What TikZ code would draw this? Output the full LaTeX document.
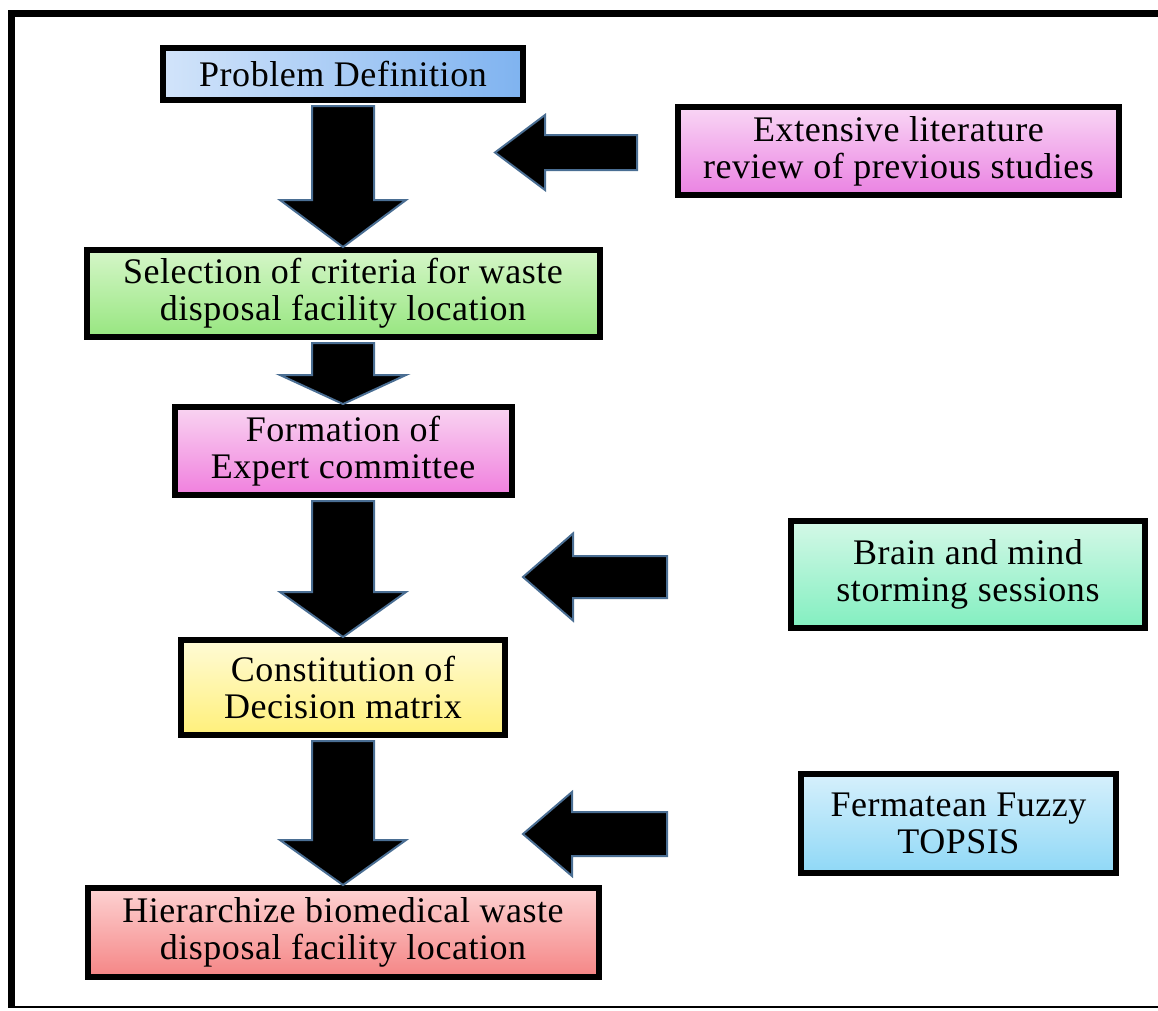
\documentclass[tikz,border=0pt]{standalone}
\usepackage{fontspec}
\setmainfont[LetterSpace=1.5]{Liberation Serif}
\usetikzlibrary{calc, positioning}

\definecolor{arrowedge}{HTML}{4A6E93}
\definecolor{pdA}{HTML}{D2E4FA}  \definecolor{pdB}{HTML}{7FB3F0}
\definecolor{selA}{HTML}{D5F6C8} \definecolor{selB}{HTML}{97E680}
\definecolor{frmA}{HTML}{F9D4F1} \definecolor{frmB}{HTML}{F07FDE}
\definecolor{conA}{HTML}{FFFBD6} \definecolor{conB}{HTML}{FFF07A}
\definecolor{hieA}{HTML}{FDD2D2} \definecolor{hieB}{HTML}{F58585}
\definecolor{litA}{HTML}{F9D6F5} \definecolor{litB}{HTML}{EA82E2}
\definecolor{brnA}{HTML}{D4F8E7} \definecolor{brnB}{HTML}{82EFC0}
\definecolor{fftA}{HTML}{D6F0FC} \definecolor{fftB}{HTML}{8FD8F6}

\tikzset{
  stage/.style={draw=black, line width=6pt, align=center, inner sep=0pt,
                font=\fontsize{36}{37}\selectfont},
  blockarrow/.style={fill=black, draw=arrowedge, line width=2pt, line join=miter},
}

% fat arrow from the bottom of #1 down to the top of #2, head length #3
\newcommand{\downblock}[3]{%
  \draw[blockarrow] let \p1=(#1.south), \p2=(#2.north) in
    (\x2-31pt,\y1-3pt) -- (\x2+31pt,\y1-3pt) -- (\x2+31pt,\y2+#3pt)
    -- (\x2+63pt,\y2+#3pt) -- (\x2,\y2) -- (\x2-63pt,\y2+#3pt)
    -- (\x2-31pt,\y2+#3pt) -- cycle;}

% fat arrow pointing left: tip #1, length #2, head length #3, half heights #4 (head) #5 (shaft)
\newcommand{\sideblock}[5]{%
  \draw[blockarrow] (#1) -- ++(#3,-#4) -- ++(0,#4-#5) -- ++(#2-#3,0)
    -- ++(0,2*#5) -- ++(#3-#2,0) -- ++(0,#4-#5) -- cycle;}

\begin{document}
\begin{tikzpicture}[x=1pt,y=-1pt]
  \useasboundingbox (0,0) rectangle (1158,1010);

  % frame
  \draw[line width=7pt] (1158,13.5) -- (11.5,13.5) -- (11.5,1008);
  \draw[line width=2.5pt] (8,1007) -- (1158,1007);

  % main steps
  \node[stage, minimum width=360pt, minimum height=52pt, left color=pdA, right color=pdB]
    (problem) at (343,74) {Problem Definition};
  \node[stage, minimum width=513pt, minimum height=87pt, top color=selA, bottom color=selB]
    (criteria) at (343,293.5) {Selection of criteria for waste\\disposal facility location};
  \node[stage, minimum width=337pt, minimum height=88pt, top color=frmA, bottom color=frmB]
    (committee) at (343,451) {Formation of\\Expert committee};
  \node[stage, minimum width=324pt, minimum height=95pt, top color=conA, bottom color=conB]
    (matrix) at (343,687.5) {Constitution of\\Decision matrix};
  \node[stage, minimum width=511pt, minimum height=89pt, top color=hieA, bottom color=hieB]
    (ranking) at (343,932.5) {Hierarchize biomedical waste\\disposal facility location};

  % inputs on the right
  \node[stage, minimum width=441pt, minimum height=88pt, top color=litA, bottom color=litB]
    (review) at (898.5,151) {Extensive literature\\review of previous studies};
  \node[stage, minimum width=354pt, minimum height=107pt, top color=brnA, bottom color=brnB]
    (storming) at (968,574.5) {Brain and mind\\storming sessions};
  \node[stage, minimum width=315pt, minimum height=99pt, top color=fftA, bottom color=fftB]
    (topsis) at (958.5,823.5) {Fermatean Fuzzy\\TOPSIS};

  % flow
  \downblock{problem}{criteria}{47}
  \downblock{criteria}{committee}{29}
  \downblock{committee}{matrix}{45}
  \downblock{matrix}{ranking}{45}

  \coordinate (reviewTip) at (495,152.5);
  \coordinate (stormTip) at (523,577);
  \coordinate (topsisTip) at (523,834);
  \sideblock{reviewTip}{142}{50}{37.5}{17.5}
  \sideblock{stormTip}{144}{50}{43.5}{21}
  \sideblock{topsisTip}{144}{49}{42}{22}
\end{tikzpicture}
\end{document}
